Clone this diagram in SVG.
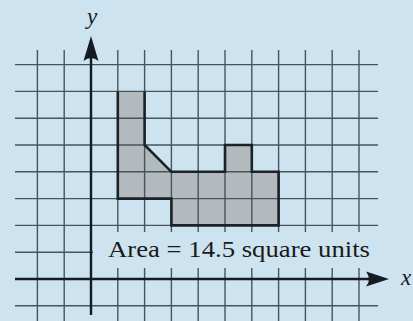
<svg xmlns="http://www.w3.org/2000/svg" width="413" height="321" viewBox="0 0 413 321">
<style>
.grid line{stroke:#46545c;stroke-width:1.4}
.axis{stroke:#141c22;stroke-width:2.4;fill:none}
.head{fill:#141c22}
.outline{fill:none;stroke:#1a2228;stroke-width:2.6;stroke-linejoin:miter}
.lbl{font-family:"Liberation Serif","DejaVu Serif",serif;fill:#1a1a1a}
</style>
<rect x="0" y="0" width="413" height="321" fill="#cde3ef"/>
<g id="shape-fill">
<polygon points="117.8,91.4 144.6,91.4 144.6,145 171.4,171.8 225,171.8 225,145 251.8,145 251.8,171.8 278.6,171.8 278.6,225.4 171.4,225.4 171.4,198.6 117.8,198.6" fill="#b3babe"/>
</g>
<g id="grid" class="grid">
<line x1="37.4" y1="50" x2="37.4" y2="321"/>
<line x1="64.2" y1="50" x2="64.2" y2="321"/>
<line x1="117.8" y1="50" x2="117.8" y2="321"/>
<line x1="144.6" y1="50" x2="144.6" y2="321"/>
<line x1="171.4" y1="50" x2="171.4" y2="321"/>
<line x1="198.2" y1="50" x2="198.2" y2="321"/>
<line x1="225" y1="50" x2="225" y2="321"/>
<line x1="251.8" y1="50" x2="251.8" y2="321"/>
<line x1="278.6" y1="50" x2="278.6" y2="321"/>
<line x1="305.4" y1="50" x2="305.4" y2="321"/>
<line x1="332.2" y1="50" x2="332.2" y2="321"/>
<line x1="359" y1="50" x2="359" y2="321"/>
<line x1="15" y1="64.6" x2="378" y2="64.6"/>
<line x1="15" y1="91.4" x2="378" y2="91.4"/>
<line x1="15" y1="118.2" x2="378" y2="118.2"/>
<line x1="15" y1="145" x2="378" y2="145"/>
<line x1="15" y1="171.8" x2="378" y2="171.8"/>
<line x1="15" y1="198.6" x2="378" y2="198.6"/>
<line x1="15" y1="225.4" x2="378" y2="225.4"/>
<line x1="15" y1="252.2" x2="378" y2="252.2"/>
<line x1="15" y1="305.8" x2="378" y2="305.8"/>
</g>
<rect x="93" y="232" width="288" height="36" fill="#cde3ef"/>
<g id="shape-outline">
<polyline class="outline" points="144.6,91.4 144.6,145 171.4,171.8 225,171.8 225,145 251.8,145 251.8,171.8 278.6,171.8 278.6,225.4 171.4,225.4 171.4,198.6 117.8,198.6 117.8,91.4"/>
</g>
<g id="axes">
<line class="axis" x1="91" y1="50" x2="91" y2="315"/>
<line class="axis" x1="15" y1="279" x2="372" y2="279"/>
<path class="head" d="M91,36 L98.5,61 Q91,55 83.5,61 Z"/>
<path class="head" d="M389,279 L366,286.5 Q372,279 366,271.5 Z"/>
</g>
<g id="labels">
<text class="lbl" x="92" y="24" font-size="23" font-style="italic" text-anchor="middle">y</text>
<text class="lbl" x="401" y="285" font-size="23" font-style="italic">x</text>
<text class="lbl" x="108" y="257" font-size="23" textLength="262" lengthAdjust="spacingAndGlyphs">Area = 14.5 square units</text>
</g>
</svg>
